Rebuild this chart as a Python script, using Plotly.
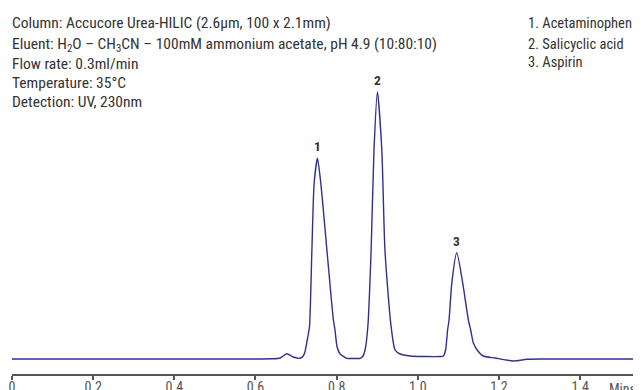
import plotly.graph_objects as go

# Chromatogram trace (time in minutes, detector signal in arbitrary units)
time_min = [0.0, 0.30, 0.60, 0.640, 0.661, 0.677, 0.693, 0.710, 0.7175, 0.722, 0.728, 0.733,
            0.739, 0.7446, 0.7527, 0.761, 0.776, 0.792, 0.796, 0.801, 0.8086, 0.825, 0.845, 0.858,
            0.865, 0.870, 0.877, 0.885, 0.892, 0.9005, 0.9113, 0.919, 0.9335, 0.944, 0.9564,
            0.981, 1.018, 1.055, 1.063, 1.0685, 1.0734, 1.077, 1.0837, 1.096, 1.1108, 1.1246,
            1.1303, 1.137, 1.148, 1.161, 1.19, 1.2357, 1.2685, 1.30, 1.42, 1.55]
signal = [0.0, 0.0, 0.0, 0.2, 1.0, 5.3, 2.0, 0.7, 3.0, 7.3, 20.0, 32.0,
          109.0, 175.7, 200.7, 175.7, 109.0, 39.0, 29.0, 12.3, 5.0, 0.7, 0.5, 0.7,
          3.0, 9.0, 33.0, 109.0, 209.0, 267.3, 209.0, 109.0, 35.0, 9.0, 5.0,
          3.0, 2.5, 2.5, 3.0, 9.0, 29.0, 39.0, 75.7, 106.3, 75.7, 39.0,
          29.0, 16.0, 8.0, 3.0, 1.0, -2.0, -0.3, 0.0, 0.0, 0.0]

peak_labels = ["1", "2", "3"]
peak_times = [0.7527, 0.9005, 1.096]
peak_heights = [200.7, 267.3, 106.3]

tick_vals = [0, 0.2, 0.4, 0.6, 0.8, 1.0, 1.2, 1.4]
tick_text = ["0", "0.2", "0.4", "0.6", "0.8", "1.0", "1.2", "1.4"]

info_lines = [
    "Column: Accucore Urea-HILIC (2.6µm, 100 x 2.1mm)",
    "Eluent: H<sub>2</sub>O – CH<sub>3</sub>CN – 100mM ammonium acetate, pH 4.9 (10:80:10)",
    "Flow rate: 0.3ml/min",
    "Temperature: 35°C",
    "Detection: UV, 230nm",
]
legend_lines = ["1. Acetaminophen", "2. Salicyclic acid", "3. Aspirin"]

FONT = "Roboto Condensed, Liberation Sans Narrow, sans-serif"
PAGE_OFF = 8            # default body margin of the html page
W, H = 641 - PAGE_OFF, 390 - PAGE_OFF
L, B = 4, 16
PLOT_BOTTOM = H - B     # figure pixel row of the x axis

def px_x(px):           # page pixel -> paper x
    return (px - PAGE_OFF - L) / (W - L)

def px_y(py):           # page pixel -> paper y
    return (PLOT_BOTTOM - (py - PAGE_OFF)) / PLOT_BOTTOM

fig = go.Figure()
fig.add_trace(go.Scatter(x=time_min, y=signal, mode="lines",
                         line=dict(color="#2e3192", width=1.4, shape="spline", smoothing=0.6),
                         hoverinfo="skip", showlegend=False))

annotations = []
info_y = [23, 45, 64.3, 83, 101.7]
for txt, py in zip(info_lines, info_y):
    annotations.append(dict(text=txt, x=px_x(10), y=px_y(py), xref="paper", yref="paper",
                            xanchor="left", yanchor="middle", showarrow=False,
                            font=dict(family=FONT, size=15.5, color="#333333")))
legend_y = [23, 44.5, 62.5]
for txt, py in zip(legend_lines, legend_y):
    annotations.append(dict(text=txt, x=px_x(526), y=px_y(py), xref="paper", yref="paper",
                            xanchor="left", yanchor="middle", showarrow=False,
                            font=dict(family=FONT, size=14.5, color="#333333")))
for lab, t, h in zip(peak_labels, peak_times, peak_heights):
    annotations.append(dict(text="<b>" + lab + "</b>", x=t, y=h, xref="x", yref="y",
                            xanchor="center", yanchor="middle", yshift=12, showarrow=False,
                            font=dict(family=FONT, size=13.5, color="#333333")))
annotations.append(dict(text="Mins", x=1.0, y=px_y(379), xref="paper", yref="paper",
                        xanchor="right", yanchor="top", xshift=-3, showarrow=False,
                        font=dict(family=FONT, size=14, color="#555555")))

fig.update_layout(
    width=W, height=H,
    margin=dict(l=L, r=0, t=0, b=B, autoexpand=False),
    paper_bgcolor="white", plot_bgcolor="white",
    annotations=annotations,
    xaxis=dict(range=[0, 1.55], tickvals=tick_vals, ticktext=tick_text,
               showgrid=False, zeroline=False, showline=True, linecolor="#555555", linewidth=2,
               ticks="outside", ticklen=4, tickwidth=1.5, tickcolor="#555555",
               ticklabelstandoff=-5,
               tickfont=dict(family=FONT, size=14, color="#555555"), automargin=False),
    yaxis=dict(range=[-15, 351], visible=False, showgrid=False, zeroline=False, automargin=False),
)

fig.write_html("out.html")
